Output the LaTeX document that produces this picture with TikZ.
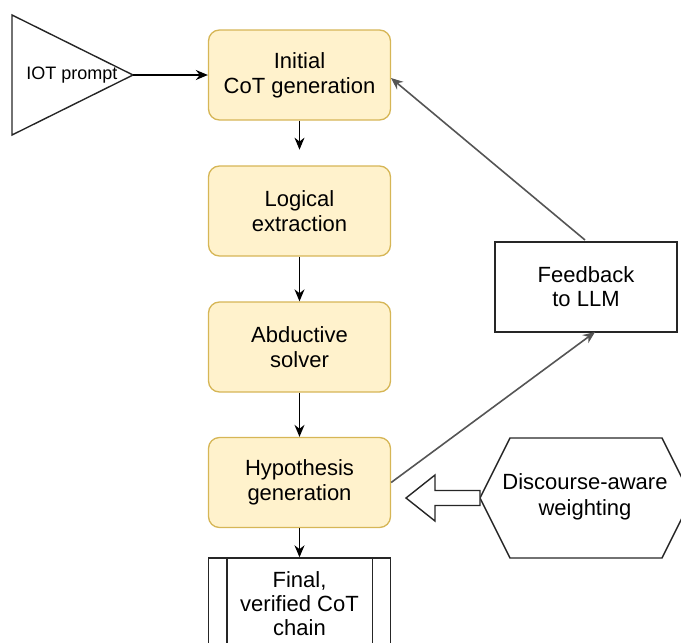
\documentclass[tikz,border=0pt]{standalone}
\usepackage{fontspec}
\setmainfont{Liberation Sans}
\usetikzlibrary{arrows.meta,calc}
\definecolor{stepfill}{HTML}{FFF2CC}
\definecolor{stepline}{HTML}{D6B656}
\definecolor{backline}{HTML}{555555}
\tikzset{
  stepbox/.style={draw=stepline, fill=stepfill, line width=1.3pt, rounded corners=11pt,
    minimum width=182pt, minimum height=90pt, align=center, inner sep=0pt,
    font=\fontsize{22}{25}\selectfont},
  plainbox/.style={draw=black!85, line width=1.4pt, minimum width=182pt, minimum height=90pt,
    align=center, inner sep=0pt, font=\fontsize{22}{24}\selectfont},
  flow/.style={draw=black, line width=1.4pt, -{Stealth[length=12pt,width=10pt]}},
  backflow/.style={draw=backline, line width=1.6pt, -{Stealth[length=12pt,width=10pt]}},
  outline/.style={draw=black!85, line width=1.4pt},
}
\begin{document}
\begin{tikzpicture}[x=1pt,y=-1pt]
\useasboundingbox (0,0) rectangle (681,643);

% input prompt triangle
\draw[outline] (12,15) -- (133,75) -- (12,135) -- cycle;
\coordinate (tip) at (133,75);
\node[font=\fontsize{18}{20}\selectfont] (iot) at (72,75) {IOT prompt};

% main pipeline
\node[stepbox] (init) at (299.5,75) {Initial\\CoT generation};
\node[stepbox] (logic) at (299.5,211) {Logical\\extraction};
\node[stepbox] (abd) at (299.5,347) {Abductive\\solver};
\node[stepbox] (hyp) at (299.5,482.5) {Hypothesis\\generation};

% final chain (process box with double sides)
\node[plainbox, minimum height=91pt] (final) at (299.5,603.5) {Final,\\verified CoT\\chain};
\draw[outline] ($(final.north west)+(19,0)$) -- ($(final.south west)+(19,0)$);
\draw[outline] ($(final.north east)+(-19,0)$) -- ($(final.south east)+(-19,0)$);

% feedback box
\node[plainbox] (fb) at (586,287) {Feedback\\to LLM};

% hexagon weighting block
\draw[outline] (480,498) -- (510,438) -- (662,438) -- (692,498) -- (662,558) -- (510,558) -- cycle;
\coordinate (hexl) at (480,498);
\node[font=\fontsize{22}{26}\selectfont, align=center] (disc) at (585,497) {Discourse-aware\\weighting};

% hollow block arrow into hypothesis generation
\draw[outline, fill=white] (hexl) ++(0,-7.5) -- (435,490.5) -- (435,475) -- (406,498)
  -- (435,521) -- (435,505.5) -- ($(hexl)+(0,7.5)$) -- cycle;

% connectors
\draw[flow] (tip) -- (init.west);
\draw[flow] (init.south) -- ++(0,29);
\draw[flow] (logic.south) -- (abd.north);
\draw[flow] (abd.south) -- (hyp.north);
\draw[flow] (hyp.south) -- (final.north);
\draw[backflow] (hyp.east) -- (595,332);
\draw[backflow] (585,240) -- (391,78);
\end{tikzpicture}
\end{document}
